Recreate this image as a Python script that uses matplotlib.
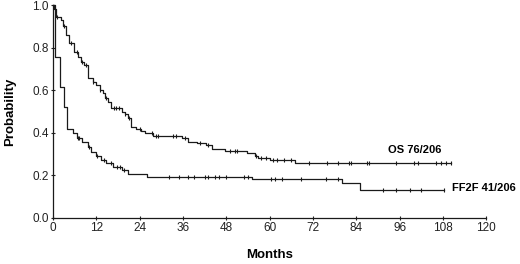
import numpy as np
import matplotlib
matplotlib.use('Agg')
import matplotlib.pyplot as plt

plt.rcParams['font.family'] = ['Liberation Sans', 'DejaVu Sans']

# overall survival (step curve)
os_t = [0, 0.3, 0.8, 2.2, 2.7, 3.6, 4.5, 5.7, 6.9, 7.8, 8.7, 9.6, 11.0, 11.9, 12.9,
        13.8, 14.4, 15.2, 16.1, 19.0, 19.9, 20.8, 21.7, 23.1, 24.5, 25.4, 27.7, 35.6,
        37.5, 39.8, 42.5, 43.9, 47.6, 53.6, 55.9, 56.9, 60.1, 66.9, 110.3]
os_p = [1.0, 0.98, 0.945, 0.93, 0.9, 0.86, 0.82, 0.78, 0.757, 0.733, 0.718, 0.655, 0.64,
        0.624, 0.6, 0.585, 0.561, 0.545, 0.514, 0.498, 0.487, 0.467, 0.428, 0.417, 0.408,
        0.4, 0.384, 0.373, 0.357, 0.35, 0.342, 0.323, 0.314, 0.303, 0.29, 0.279, 0.271,
        0.259, 0.259]
os_cens = [1.0, 3.0, 5.0, 6.5, 8.0, 9.0, 11.2, 13.0, 14.6, 16.8, 17.5, 18.3, 20.0, 21.0,
           24.0, 27.5, 28.4, 29.0, 33.3, 34.2, 36.5, 40.7, 43.0, 49.0, 50.4, 50.9, 56.2,
           57.5, 59.0, 61.0, 62.0, 64.0, 66.0, 71.0, 76.0, 79.0, 82.0, 82.6, 87.0, 87.6,
           95.0, 100.0, 101.0, 106.0, 107.5, 109.0, 110.3]

# freedom from second failure
ff_t = [0, 0.5, 1.9, 3.0, 3.9, 5.5, 6.5, 7.9, 9.7, 10.6, 12.0, 13.4, 14.8, 16.7, 19.0,
        20.8, 25.9, 55.0, 80.0, 85.0, 108.2]
ff_p = [1.0, 0.757, 0.616, 0.522, 0.416, 0.397, 0.373, 0.357, 0.334, 0.31, 0.29, 0.271,
        0.256, 0.24, 0.224, 0.204, 0.19, 0.18, 0.162, 0.13, 0.13]
ff_cens = [6.8, 7.3, 10.0, 12.3, 14.0, 16.0, 17.6, 18.6, 19.6, 32.0, 35.0, 37.5, 39.0,
           42.0, 43.0, 45.0, 46.0, 48.0, 53.0, 54.0, 60.5, 61.5, 63.5, 68.6, 75.7, 79.0,
           91.5, 95.0, 99.0, 102.0, 108.2]

x_ticks = list(range(0, 121, 12))
y_ticks = [0.0, 0.2, 0.4, 0.6, 0.8, 1.0]


def step_value(t, p, x):
    idx = np.searchsorted(t, x, side='right') - 1
    return np.asarray(p)[idx]


fig = plt.figure(figsize=(5.2, 2.64), dpi=100)
ax = fig.add_axes([0.102, 0.175, 0.833, 0.806])

lc = '#1a1a1a'
for t, p, cens in [(os_t, os_p, os_cens), (ff_t, ff_p, ff_cens)]:
    ax.step(t, p, where='post', color=lc, lw=0.9, clip_on=False)
    ax.plot(cens, step_value(t, p, cens), ls='none', marker='|', ms=3.5,
            mew=0.8, color=lc, clip_on=False)

ax.text(92.8, 0.318, 'OS 76/206', fontsize=8, fontweight='bold', ha='left', va='center')
ax.text(110.6, 0.138, 'FF2F 41/206', fontsize=8, fontweight='bold', ha='left',
        va='center', clip_on=False)

ax.set_xlim(0, 120)
ax.set_ylim(0, 1.0)
ax.set_xticks(x_ticks)
ax.set_yticks(y_ticks)
ax.set_yticklabels([f'{v:.1f}' for v in y_ticks])
ax.tick_params(direction='inout', length=3, width=0.8, labelsize=8.5, pad=1.5,
               colors='#222222')
for s in ['top', 'right']:
    ax.spines[s].set_visible(False)
for s in ['left', 'bottom']:
    ax.spines[s].set_linewidth(0.9)
    ax.spines[s].set_color(lc)

ax.set_xlabel('Months', fontsize=9.5, fontweight='bold', labelpad=11)
ax.set_ylabel('Probability', fontsize=9.5, fontweight='bold', labelpad=12)

fig.savefig('out.png', dpi=100)
